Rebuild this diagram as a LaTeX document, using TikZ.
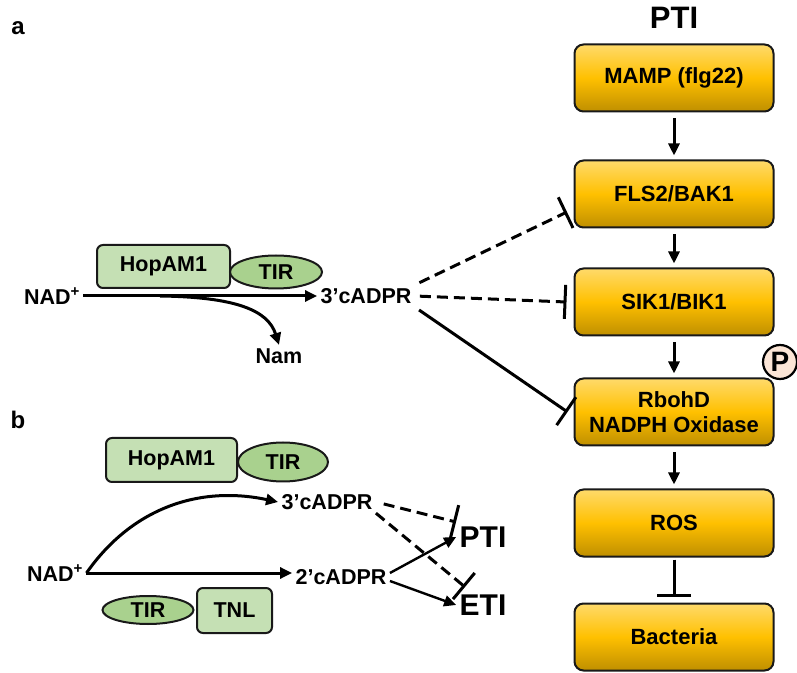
\documentclass[tikz,border=0pt]{standalone}
\usepackage{fontspec}
\setmainfont{Liberation Sans}
\usetikzlibrary{arrows.meta,shapes.geometric}
\definecolor{boxtop}{HTML}{FFDA6A}
\definecolor{boxmid}{HTML}{FFC000}
\definecolor{boxbot}{HTML}{BF8F00}
\definecolor{hopgreen}{HTML}{C5E0B4}
\definecolor{tirgreen}{HTML}{A9D18E}
\definecolor{pcircle}{HTML}{FBE5D6}

\begin{document}
\begin{tikzpicture}[x=1pt,y=1pt,font=\fontsize{21.5}{25}\selectfont\bfseries,
	pathway/.style={draw=black!90,line width=2pt,rounded corners=9pt,minimum width=199pt,minimum height=67pt,top color=boxtop,bottom color=boxbot,middle color=boxmid,align=center,font=\fontsize{22}{25}\selectfont\bfseries},
	effector/.style={draw=black!90,line width=2pt,rounded corners=6pt,fill=hopgreen,inner sep=0pt},
	tirdomain/.style={ellipse,draw=black!90,line width=2pt,fill=tirgreen,inner sep=0pt},
	act/.style={-{Triangle[length=12pt,width=11pt]},line width=3pt},
	block/.style={-{Bar[width=34pt]},line width=3pt},
	dashblock/.style={block,dash pattern=on 11pt off 6pt}]
	\useasboundingbox (0,0) rectangle (797,672);
	
	%panel letters
	\node (lettera) at (18,644) {\fontsize{24}{28}\selectfont a}; %a
	\node (letterb) at (18,252) {\fontsize{24}{28}\selectfont b}; %b
	
	%PTI cascade-----------------------------------------
	\node (ptititle) at (674,654) {\fontsize{31}{34}\selectfont PTI}; %title
	\node[pathway] (mamp) at (674,594) {MAMP (flg22)};
	\node[pathway] (fls) at (674,478) {FLS2/BAK1};
	\node[pathway] (sik) at (674,370) {SIK1/BIK1};
	\node[pathway] (rboh) at (674,260) {RbohD\\NADPH Oxidase};
	\node[pathway] (ros) at (674,149) {ROS};
	\node[pathway] (bact) at (674,35) {Bacteria};
	\node[circle,draw=black,line width=2.2pt,fill=pcircle,minimum size=34pt,inner sep=0pt,font=\fontsize{28}{30}\selectfont\bfseries] (phos) at (780,310) {P}; %phosphorylation
	\draw[act,shorten <=6pt,shorten >=4pt] (mamp) -- (fls);
	\draw[act,shorten <=6pt,shorten >=4pt] (fls) -- (sik);
	\draw[act,shorten <=6pt,shorten >=4pt] (sik) -- (rboh);
	\draw[act,shorten <=6pt,shorten >=4pt] (rboh) -- (ros);
	\draw[block,shorten <=2pt,shorten >=6pt] (ros) -- (bact); %ROS kills bacteria
	
	%a - HopAM1 makes 3'cADPR----------------------------
	\node[effector,minimum width=133pt,minimum height=43pt] (hopa) at (163.5,405.5) {HopAM1};
	\node[tirdomain,minimum width=92pt,minimum height=33pt] (tira) at (276,400) {TIR};
	\node (nada) at (52,376) {NAD\textsuperscript{+}};
	\node (cadpra) at (366,376) {3’cADPR};
	\node (nam) at (279,316) {Nam};
	\coordinate (split) at (160,376); %Nam branch point
	\draw[act] (nada) -- (cadpra);
	\draw[act] (split) .. controls (235,375) and (268,362) .. (nam.north);
	\coordinate (flsin) at (567,460); %bar on FLS2
	\draw[dashblock,shorten <=5pt] (cadpra.north east) -- (flsin);
	\draw[dashblock,shorten <=5pt] (cadpra.east) -- ([xshift=-7pt]sik.west);
	\draw[block,shorten <=5pt] (cadpra.south east) -- ([xshift=-6pt]rboh.west);
	
	%b - HopAM1 vs TNL-----------------------------------
	\node[effector,minimum width=131pt,minimum height=44pt] (hopb) at (171.5,212) {HopAM1};
	\node[tirdomain,minimum width=90pt,minimum height=39pt] (tirb) at (283,210) {TIR};
	\node[tirdomain,minimum width=91pt,minimum height=28pt] (tirc) at (148,62) {TIR};
	\node[effector,minimum width=75pt,minimum height=45pt] (tnl) at (234.5,61.5) {TNL};
	\node (nadb) at (55,99) {NAD\textsuperscript{+}};
	\node (cadprb3) at (327,170) {3’cADPR};
	\node (cadprb2) at (341,95) {2’cADPR};
	\node (ptib) at (483,135) {\fontsize{30}{34}\selectfont PTI};
	\node (etib) at (483,67) {\fontsize{30}{34}\selectfont ETI};
	\draw[act] (nadb.east) -- (nadb.east -| cadprb2.west);
	\draw[act] (nadb.east) to[out=55,in=168] (cadprb3.west);
	\coordinate (ptiin) at (456,150); %bar on PTI
	\coordinate (etiin) at (465,85); %bar on ETI
	\draw[dashblock,shorten <=8pt] (cadprb3.east) -- (ptiin);
	\draw[dashblock] (cadprb3.south east) -- (etiin);
	\draw[act,line width=2.4pt] ([yshift=4pt]cadprb2.east) -- (ptib.west);
	\draw[act,line width=2.4pt] ([yshift=-4pt]cadprb2.east) -- (etib.west);
\end{tikzpicture}
\end{document}
